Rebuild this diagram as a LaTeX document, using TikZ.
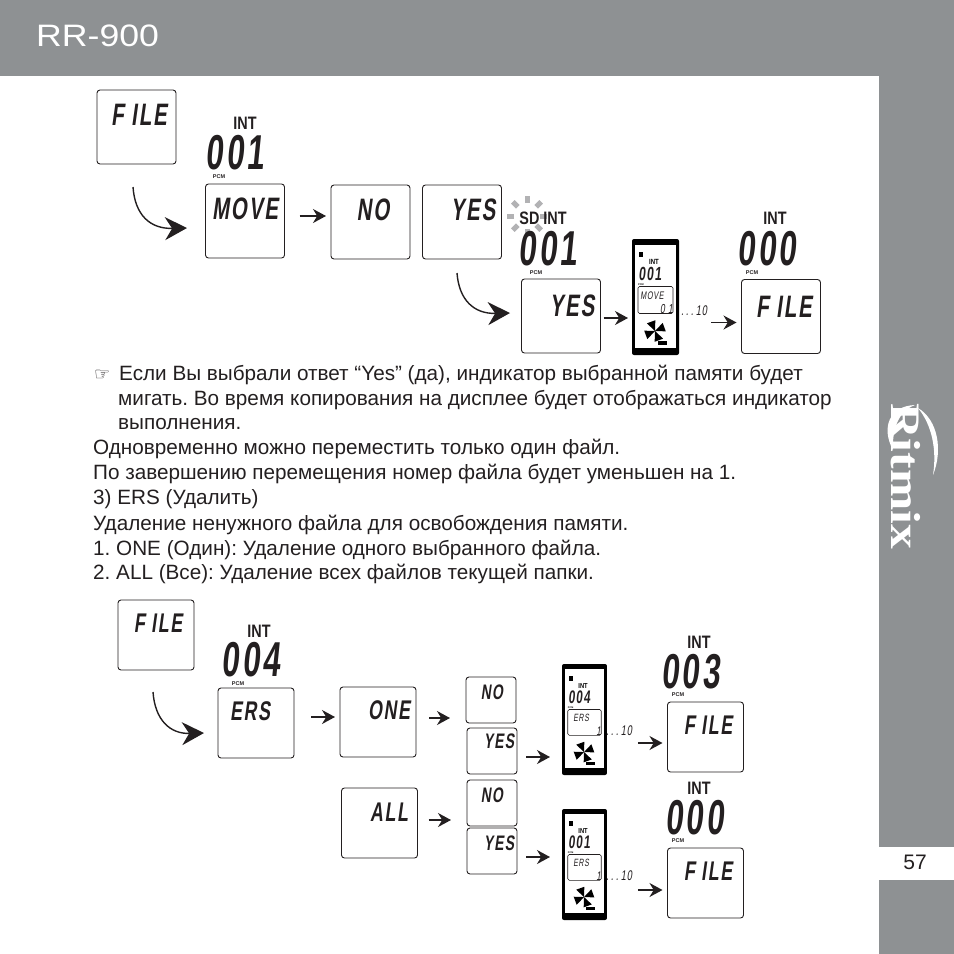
\documentclass[tikz,border=0pt]{standalone}
\usepackage{fontspec}
\usepackage{tikz}
\usetikzlibrary{arrows.meta, positioning}
\setmainfont{Liberation Sans}
\newfontfamily\lcdfont{Liberation Sans}[FakeSlant=0.14,FakeStretch=0.66,LetterSpace=6]
\newfontfamily\lcdnumfont{Liberation Sans}[FakeSlant=0.1,FakeStretch=0.64,LetterSpace=6]
\newfontfamily\intfont{Liberation Sans}[FakeStretch=0.8]
\newfontfamily\logofont{Liberation Serif}[FakeStretch=1.18]
\newfontfamily\headfont{Liberation Sans}[FakeStretch=1.15]
\newfontfamily\symbfont{DejaVu Sans}
\definecolor{bandgray}{RGB}{142,145,147}
\definecolor{blinkgray}{RGB}{178,178,180}
\definecolor{inkblack}{RGB}{35,31,32}

\tikzset{
    lcdbox/.style={rectangle, draw=inkblack, line width=0.9pt, rounded corners=3pt, minimum width=79, minimum height=74, inner sep=0, outer sep=0, fill=white},
    lcdboxs/.style={lcdbox, minimum width=76, minimum height=70},
    lcdboxm/.style={lcdbox, minimum width=50, minimum height=46},
    lcdword/.style={font=\lcdfont\bfseries\fontsize{31}{31}\selectfont, text=inkblack, inner sep=0, text height=22, text depth=0},
    lcdwords/.style={font=\lcdfont\bfseries\fontsize{27}{27}\selectfont, text=inkblack, inner sep=0, text height=19, text depth=0},
    lcdwordm/.style={font=\lcdfont\bfseries\fontsize{21}{21}\selectfont, text=inkblack, inner sep=0, text height=15, text depth=0},
    lcdnum/.style={font=\lcdnumfont\bfseries\fontsize{49}{49}\selectfont, text=inkblack, inner sep=0, text height=34, text depth=0},
    lcdtiny/.style={font=\lcdfont\fontsize{14}{14}\selectfont, text=inkblack, inner sep=0, text height=10, text depth=0},
    intlabel/.style={font=\intfont\bfseries\fontsize{18}{18}\selectfont, text=inkblack, inner sep=0, text height=13, text depth=0},
    pcmlabel/.style={font=\bfseries\fontsize{5.5}{5.5}\selectfont, text=inkblack, inner sep=0, text height=4, text depth=0},
    bodytext/.style={font=\fontsize{20.7}{20.7}\selectfont, text=inkblack, anchor=west, inner sep=0},
    lcdarrow/.style={-{Stealth[length=13, width=14]}, line width=1.4pt, inkblack},
    lcdcurve/.style={-{Stealth[length=22, width=23]}, line width=1.4pt, inkblack},
    blinkray/.style={line width=5pt, blinkgray}
}

% player body: name, x, y of top left, scale, digits, word, number
\newcommand{\playerbox}[7]{
\begin{scope}[shift={(#2,#3)}, scale=#4, transform shape]
\node[rectangle, fill=black, rounded corners=2pt, minimum width=47, minimum height=116, inner sep=0, outer sep=0] (#1) at (23.5,58) {};
\node[rectangle, fill=white, minimum width=41, minimum height=103, inner sep=0, outer sep=0] (#1screen) at (23.5,57) {};
\node[rectangle, fill=black, minimum width=4, minimum height=5, inner sep=0] (#1icon) at (9,15) {};
\node[font=\intfont\bfseries\fontsize{7.5}{7.5}\selectfont, inner sep=0, text height=5, text depth=0] (#1int) at (22,23) {INT};
\node[font=\lcdnumfont\bfseries\fontsize{19}{19}\selectfont, inner sep=0, text=inkblack, text height=13, text depth=0] (#1num) at (18,34.5) {#5};
\node[font=\bfseries\fontsize{2.5}{2.5}\selectfont, inner sep=0, text height=2, text depth=0] (#1pcm) at (9,45) {PCM};
\node[rectangle, draw=inkblack, line width=0.6pt, rounded corners=1.5pt, minimum width=35, minimum height=27, inner sep=0, outer sep=0, fill=white] (#1lcd) at (23.5,61) {};
\node[font=\lcdfont\fontsize{11}{11}\selectfont, inner sep=0, text=inkblack, text height=8, text depth=0] (#1word) at (20,56) {#6};
\node[font=\lcdfont\fontsize{13}{13}\selectfont, inner sep=0, text=inkblack, anchor=east, text height=9, text depth=0] (#1count) at (41,70) {#7};
\foreach \ang in {20,110,200,290} {
    \fill[black, rotate around={\ang:(23,92)}] (23,92) -- (33,87) -- (33,96) -- cycle;
}
\node[rectangle, fill=black, minimum width=9, minimum height=4, inner sep=0] (#1batt) at (30,104) {};
\end{scope}
}

\begin{document}
\frenchspacing
\begin{tikzpicture}[x=1pt, y=-1pt]
\useasboundingbox (0,0) rectangle (954,954);

% page frame
\fill[bandgray] (0,0) rectangle (954,76);
\fill[bandgray] (879,76) rectangle (954,954);
\fill[white] (879,847) rectangle (954,880);
\node[font=\fontsize{21}{21}\selectfont, text=inkblack, inner sep=0] (pagenum) at (915,862) {57};
\node[font=\headfont\fontsize{31}{31}\selectfont, text=white, inner sep=0, anchor=west] (model) at (36,36) {RR-900};
\node[font=\logofont\bfseries\fontsize{42}{42}\selectfont, text=white, inner sep=0, rotate=-90] (logo) at (906,476) {Ritmix};
\fill[white] (893,450) .. controls (881,428) and (889,406) .. (915,405) .. controls (899,411) and (892,428) .. cycle;
\fill[white] (918,408) .. controls (938,420) and (943,450) .. (933,475) .. controls (937,450) and (932,425) .. cycle;

% top row
\node[lcdbox] (filea) at (136.5,127) {};
\node[lcdword] (fileaword) at (139,114) {F ILE};
\node[intlabel] (intb) at (245,123) {INT};
\node[lcdnum] (numb) at (235,152.5) {001};
\node[pcmlabel] (pcmb) at (219,176) {PCM};
\node[lcdbox] (moveb) at (245,221) {};
\node[lcdword] (movebword) at (245,208) {MOVE};
\node[lcdbox] (nob) at (370.5,222) {};
\node[lcdword] (nobword) at (373,209) {NO};
\node[lcdbox] (yesb) at (462,222) {};
\node[lcdword] (yesbword) at (473,209) {YES};

\foreach \ang in {0,45,...,315} {
    \draw[blinkray] (527,216) ++(\ang:13) -- ++(\ang:7);
}
\node[intlabel] (sdint) at (543,218) {SD INT};
\node[lcdnum] (numc) at (548,248.5) {001};
\node[pcmlabel] (pcmc) at (536,272) {PCM};
\node[lcdbox] (yesc) at (561,316) {};
\node[lcdword] (yescword) at (572,305) {YES};
\playerbox{playera}{632}{239}{1}{001}{MOVE}{0 1}
\node[lcdtiny] (dotsa) at (694,310) {.\,.\,.\,10};
\node[intlabel] (intd) at (775,218) {INT};
\node[lcdnum] (numd) at (767,248.5) {000};
\node[pcmlabel] (pcmd) at (752,272) {PCM};
\node[lcdbox] (filed) at (781,316.5) {};
\node[lcdword] (filedword) at (784,306) {F ILE};

\coordinate (curveastart) at (133,187);
\coordinate (curveaend) at (187,228);
\draw[lcdcurve] (curveastart) .. controls (135,215) and (150,229) .. (curveaend);
\draw[lcdarrow, shorten <=15, shorten >=5] ([yshift=5]moveb.east) -- ([yshift=5]moveb.east -| nob.west);
\coordinate (curvebstart) at (457,273);
\coordinate (curvebend) at (510,313);
\draw[lcdcurve] (curvebstart) .. controls (459,300) and (474,314) .. (curvebend);
\draw[lcdarrow, shorten <=3, shorten >=4] ([yshift=-2]yesc.east) -- ([yshift=-2]yesc.east -| playera.west);
\draw[lcdarrow, shorten <=32, shorten >=5] ([yshift=-6]filed.west -| playera.east) -- ([yshift=-6]filed.west);

% text
\node[font=\symbfont\fontsize{18}{18}\selectfont, text=inkblack, inner sep=0, anchor=west] (hand) at (94,375) {☞};
\node[bodytext] (linea) at (119,375) {Если Вы выбрали ответ “Yes” (да), индикатор выбранной памяти будет};
\node[bodytext] (lineb) at (118,400) {мигать. Во время копирования на дисплее будет отображаться индикатор};
\node[bodytext] (linec) at (118,424) {выполнения.};
\node[bodytext] (lined) at (93,449) {Одновременно можно переместить только один файл.};
\node[bodytext] (linee) at (93,474) {По завершению перемещения номер файла будет уменьшен на 1.};
\node[bodytext] (linef) at (93,499) {3) ERS (Удалить)};
\node[bodytext] (lineg) at (93,525) {Удаление ненужного файла для освобождения памяти.};
\node[bodytext] (lineh) at (93,550) {1. ONE (Один): Удаление одного выбранного файла.};
\node[bodytext] (linei) at (93,574) {2. ALL (Все): Удаление всех файлов текущей папки.};

% bottom rows
\node[lcdboxs] (filee) at (156,635) {};
\node[lcdwords] (fileeword) at (158,623) {F ILE};
\node[intlabel] (intf) at (259,631) {INT};
\node[lcdnum] (numf) at (251,659.5) {004};
\node[pcmlabel] (pcmf) at (238,683) {PCM};
\node[lcdboxs] (ersf) at (256,723) {};
\node[lcdwords] (ersfword) at (250,711) {ERS};
\node[lcdboxs] (oneg) at (378,722) {};
\node[lcdwords] (onegword) at (389,710) {ONE};
\node[lcdboxs] (allh) at (379.5,823) {};
\node[lcdwords] (allhword) at (389,812) {ALL};

\node[lcdboxm] (nog) at (491,700) {};
\node[lcdwordm] (nogword) at (492,692) {NO};
\node[lcdboxm] (yesg) at (492,751) {};
\node[lcdwordm] (yesgword) at (499,741) {YES};
\node[lcdboxm] (noh) at (492,803) {};
\node[lcdwordm] (nohword) at (492,795) {NO};
\node[lcdboxm] (yesh) at (492,851) {};
\node[lcdwordm] (yeshword) at (499,843) {YES};

\playerbox{playerb}{562}{664}{0.957}{004}{ERS}{1}
\node[lcdtiny] (dotsb) at (619,730) {.\,.\,.\,10};
\playerbox{playerc}{562}{809}{0.957}{001}{ERS}{1}
\node[lcdtiny] (dotsc) at (619,875) {.\,.\,.\,10};

\node[intlabel] (inti) at (699,642) {INT};
\node[lcdnum] (numi) at (690.5,671) {003};
\node[pcmlabel] (pcmi) at (678,694) {PCM};
\node[lcdboxs] (filei) at (705.5,737) {};
\node[lcdwords] (fileiword) at (708,725) {F ILE};
\node[intlabel] (intj) at (699,788) {INT};
\node[lcdnum] (numj) at (694.5,817.5) {000};
\node[pcmlabel] (pcmj) at (678,840) {PCM};
\node[lcdboxs] (filej) at (705.5,883) {};
\node[lcdwords] (filejword) at (708,871) {F ILE};

\coordinate (curvecstart) at (153,692);
\coordinate (curvecend) at (204,733);
\draw[lcdcurve] (curvecstart) .. controls (155,720) and (170,734) .. (curvecend);
\draw[lcdarrow, shorten <=17, shorten >=5] ([yshift=6]ersf.east) -- ([yshift=6]ersf.east -| oneg.west);
\draw[lcdarrow, shorten <=13, shorten >=16] ([yshift=4]oneg.east) -- ([yshift=4]oneg.east -| nog.west);
\draw[lcdarrow, shorten <=11, shorten >=16] ([yshift=3]allh.east) -- ([yshift=3]allh.east -| noh.west);
\draw[lcdarrow, shorten <=9, shorten >=12] ([yshift=-6]yesg.east) -- ([yshift=-6]yesg.east -| playerb.west);
\draw[lcdarrow, shorten <=9, shorten >=12] ([yshift=-6]yesh.east) -- ([yshift=-6]yesh.east -| playerc.west);
\draw[lcdarrow, shorten <=31, shorten >=5] ([yshift=-6]filei.west -| playerb.east) -- ([yshift=-6]filei.west);
\draw[lcdarrow, shorten <=31, shorten >=5] ([yshift=-7]filej.west -| playerc.east) -- ([yshift=-7]filej.west);
\end{tikzpicture}
\end{document}
